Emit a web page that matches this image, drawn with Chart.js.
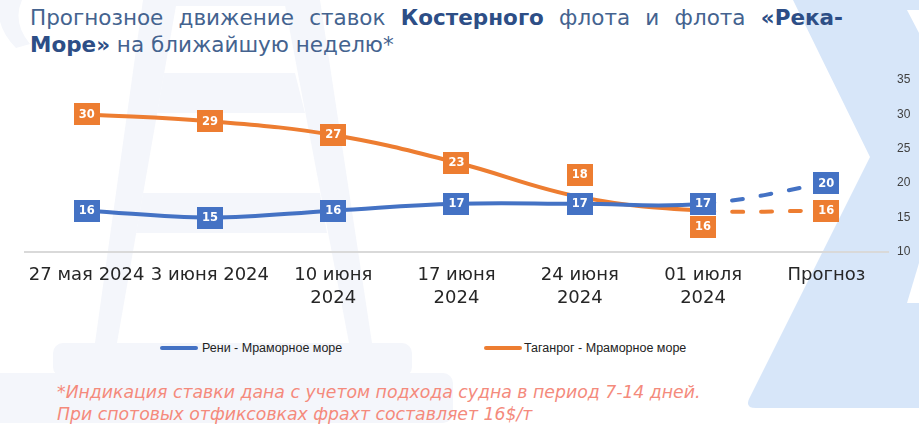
<!DOCTYPE html>
<html><head><meta charset="utf-8">
<script src="https://cdn.jsdelivr.net/npm/chart.js@4.4.1/dist/chart.umd.min.js"></script>
<style>
html,body{margin:0;padding:0;background:#fff;}
body{width:919px;height:435px;position:relative;overflow:hidden;font-family:"DejaVu Sans",sans-serif;}
#bg{position:absolute;left:0;top:0;}
#title{position:absolute;left:30px;top:4px;width:813px;font-size:21.5px;line-height:27px;color:#44638f;}
#title .l1{text-align:justify;text-align-last:justify;white-space:nowrap;}
#title b{color:#2d4e86;font-weight:bold;}
#wrap{position:absolute;left:0;top:60px;width:919px;height:262px;}
.lg{position:absolute;top:341px;font-family:"Liberation Sans",Arial,sans-serif;font-size:12.5px;color:#222;line-height:14px;}
.sw{position:absolute;top:346px;height:4px;width:38px;border-radius:2px;}
#note{position:absolute;left:57px;top:381px;font-style:italic;color:#f48a7c;font-size:17.3px;line-height:22px;white-space:nowrap;}
</style></head>
<body>
<svg id="bg" width="919" height="435">
 <g fill="#f4f6fb">
  <path d="M0,0 L22,0 Q12,22 30,44 L16,48 Q-6,26 0,0 Z"/>
  <polygon points="143,0 177,0 117,343 95,343"/>
  <polygon points="284,0 320,0 372,343 349,343"/>
  <rect x="143" y="0" width="177" height="6"/>
  <polygon points="164,73 295,73 305,113 157,113"/>
  <polygon points="143,193 320,193 327,233 136,233"/>
  <rect x="53" y="343" width="359" height="34" rx="10"/>
  <rect x="0" y="373" width="453" height="50" rx="10"/>
  <rect x="0" y="373" width="20" height="50"/>
 </g>
 <path fill="#d7e6f9" d="M793,0 L919,0 L919,408 L756,408 Q745,408 749,399 L870,157 Z"/>
 <polygon fill="#fff" points="907,10 919,10 919,33"/>
 <polygon fill="#fff" points="919,263 919,303 907,303"/>
</svg>
<div id="title"><div class="l1">Прогнозное движение ставок <b>Костерного</b> флота и флота <b>«Река-</b></div><div><b>Море»</b> на ближайшую неделю*</div></div>
<div id="wrap"><canvas id="c"></canvas></div>
<div class="sw" style="left:160px;background:#4472c4"></div><div class="lg" style="left:202px">Рени - Мраморное море</div>
<div class="sw" style="left:484px;background:#ed7d31"></div><div class="lg" style="left:524px">Таганрог - Мраморное море</div>
<div id="note">*Индикация ставки дана с учетом подхода судна в период 7-14 дней.<br>При спотовых отфиксовках фрахт составляет 16$/т</div>
<script>
const categories = ["27 мая 2024", "3 июня 2024", ["10 июня","2024"], ["17 июня","2024"], ["24 июня","2024"], ["01 июля","2024"], "Прогноз"];
const reniValues = [16, 15, 16, 17, 17, 17, 20];
const taganrogValues = [30, 29, 27, 23, 18, 16, 16];
const seriesNames = ["Рени - Мраморное море", "Таганрог - Мраморное море"];
const yTicks = {min: 10, max: 35, step: 5};
const forecastFrom = 5;

const labelPlace = [
  ['c','c','c','c','c','c','c'],
  ['c','c','c','c','a','b','c']
];

const boxLabels = {
  id: 'boxLabels',
  afterDatasetsDraw(chart) {
    const ctx = chart.ctx;
    ctx.save();
    ctx.font = 'bold 11.5px "DejaVu Sans"';
    ctx.textAlign = 'center';
    ctx.textBaseline = 'middle';
    chart.data.datasets.forEach((ds, di) => {
      const meta = chart.getDatasetMeta(di);
      meta.data.forEach((pt, i) => {
        const v = ds.data[i];
        if (v == null) return;
        const p = labelPlace[di][i];
        let y = pt.y;
        if (p === 'a') y -= 22; else if (p === 'b') y += 16;
        const t = String(v);
        const w = ctx.measureText(t).width + 10;
        ctx.fillStyle = ds.borderColor;
        ctx.fillRect(Math.round(pt.x - w / 2), Math.round(y - 11), Math.round(w), 22);
        ctx.fillStyle = '#fff';
        ctx.fillText(t, pt.x, y + 0.5);
      });
    });
    ctx.restore();
  }
};

const dashSeg = ctx => ctx.p0DataIndex >= forecastFrom ? [11, 18] : undefined;

new Chart(document.getElementById('c'), {
  type: 'line',
  data: {
    labels: categories,
    datasets: [
      {label: seriesNames[0], data: reniValues, borderColor: '#4472c4', backgroundColor: '#4472c4', borderWidth: 4, pointRadius: 0, tension: 0.4, borderCapStyle: 'round', segment: {borderDash: dashSeg}},
      {label: seriesNames[1], data: taganrogValues, borderColor: '#ed7d31', backgroundColor: '#ed7d31', borderWidth: 4, pointRadius: 0, tension: 0.4, borderCapStyle: 'round', segment: {borderDash: dashSeg}}
    ]
  },
  options: {
    responsive: true, maintainAspectRatio: false, animation: false,
    layout: {padding: {left: 25, right: 0, top: 20, bottom: 0}},
    plugins: {legend: {display: false}, tooltip: {enabled: false}},
    scales: {
      x: {
        offset: true,
        grid: {display: false, drawTicks: false},
        border: {display: true, color: '#d9d9d9', width: 2},
        ticks: {color: '#262626', font: {family: '"DejaVu Sans"', size: 18, lineHeight: 1.28}, padding: 12, maxRotation: 0, autoSkip: false}
      },
      y: {
        position: 'right', min: yTicks.min, max: yTicks.max,
        grid: {display: false, drawTicks: false},
        border: {display: false},
        ticks: {stepSize: yTicks.step, color: '#404040', font: {family: '"Liberation Sans"', size: 12}, padding: 9},
        afterFit: s => { s.width = 31; }
      }
    }
  },
  plugins: [boxLabels]
});
</script>
</body></html>
